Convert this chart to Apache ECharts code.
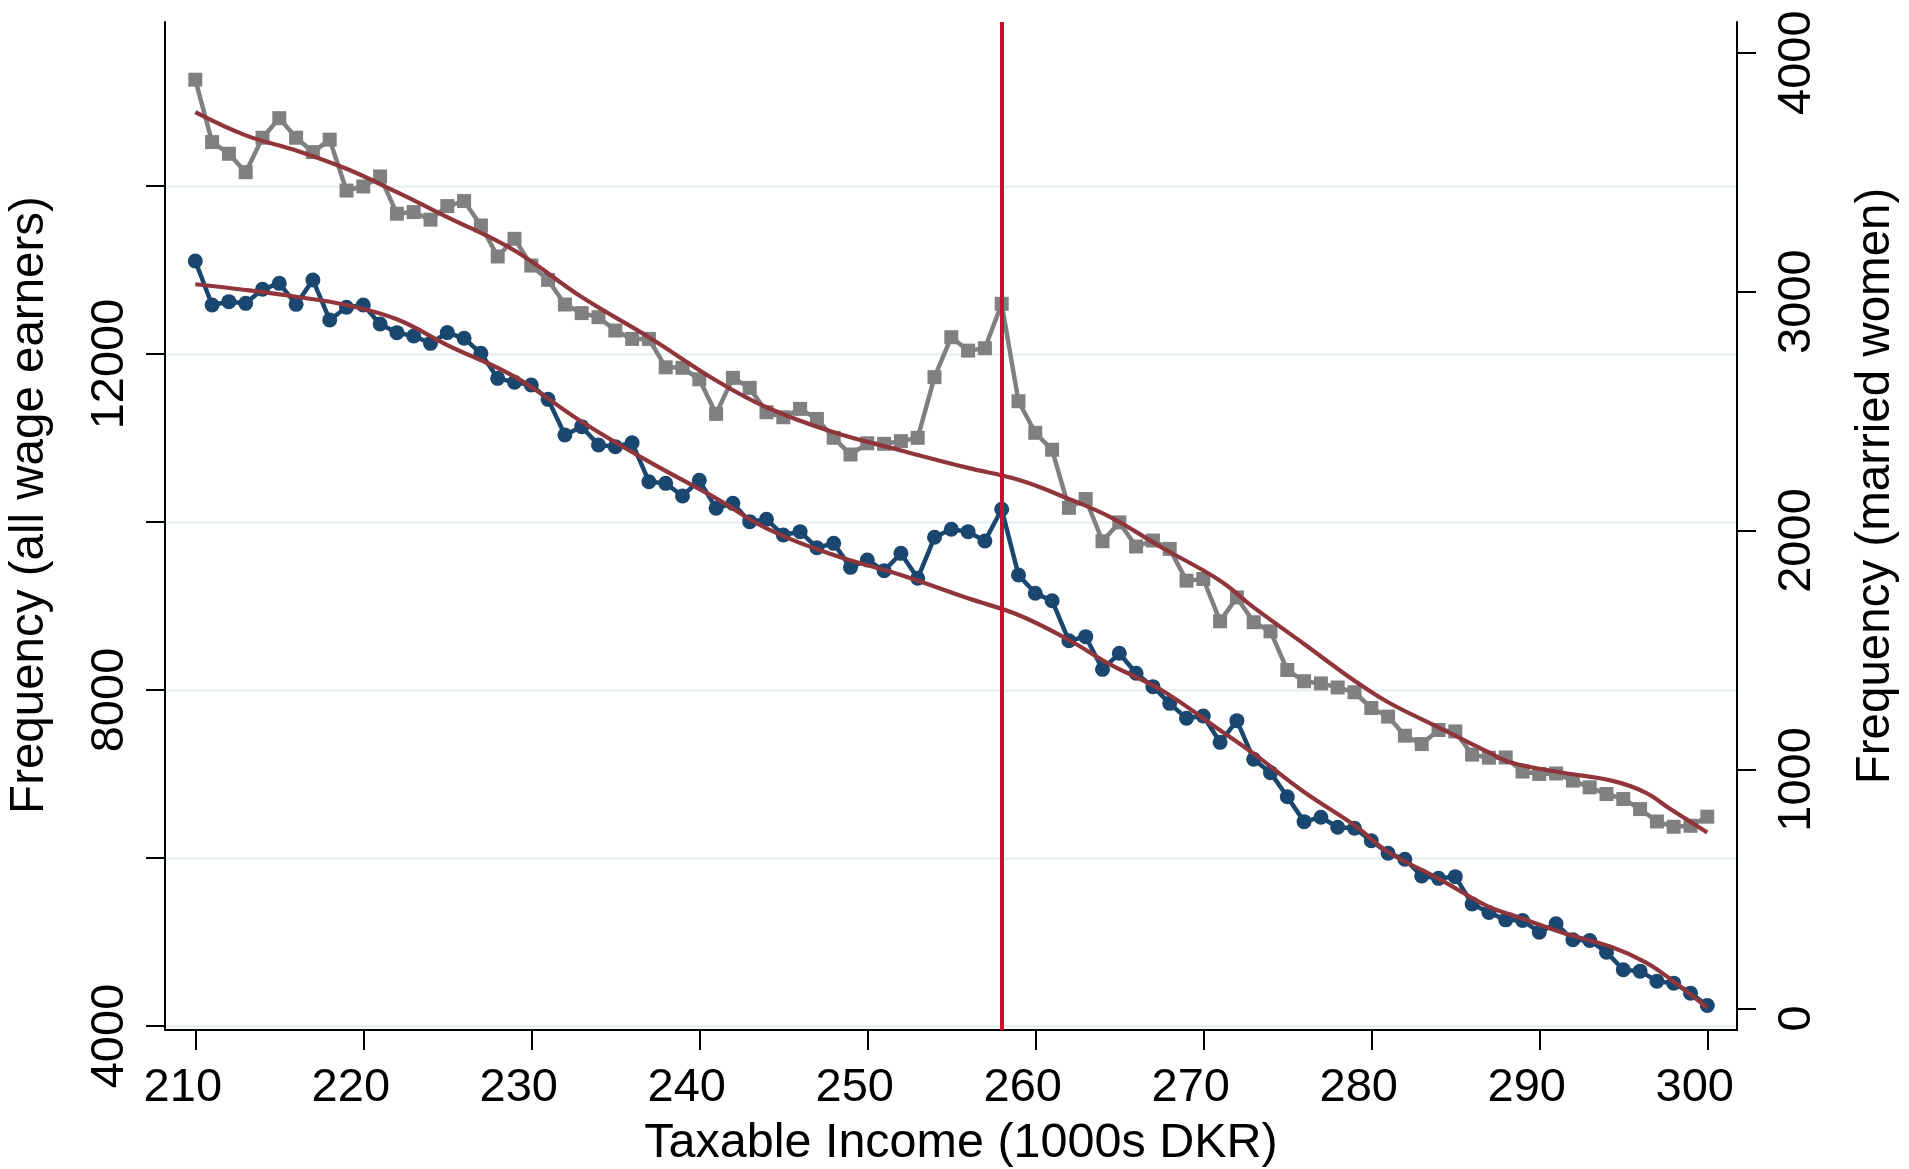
<!DOCTYPE html>
<html>
<head>
<meta charset="utf-8">
<script src="https://cdn.jsdelivr.net/npm/echarts@6/dist/echarts.min.js"></script>
<style>
html,body{margin:0;padding:0;background:#fff;}
#chart{width:1909px;height:1169px;}
</style>
</head>
<body>
<div id="chart"></div>
<script>
// Taxable income (1000s DKR)
const incomes = [210,211,212,213,214,215,216,217,218,219,220,221,222,223,224,225,226,227,228,229,230,
  231,232,233,234,235,236,237,238,239,240,241,242,243,244,245,246,247,248,249,250,
  251,252,253,254,255,256,257,258,259,260,261,262,263,264,265,266,267,268,269,270,
  271,272,273,274,275,276,277,278,279,280,281,282,283,284,285,286,287,288,289,290,
  291,292,293,294,295,296,297,298,299,300];

// Frequency (all wage earners) - left axis
const allEarners = [13107,12583,12623,12603,12770,12841,12591,12881,12405,12556,12583,
  12357,12254,12214,12127,12255,12187,12008,11710,11663,11631,
  11460,11036,11135,10917,10897,10944,10480,10460,10310,10496,
  10163,10222,10004,10032,9845,9885,9694,9746,9460,9548,
  9420,9627,9330,9818,9913,9885,9774,10151,9369,9151,
  9063,8587,8635,8246,8437,8199,8040,7841,7663,7690,
  7377,7635,7175,7016,6730,6433,6485,6366,6354,6206,
  6056,5985,5786,5758,5778,5453,5352,5264,5256,5117,
  5216,5026,5018,4879,4669,4653,4534,4510,4391,4244];

// Frequency (married women) - right axis
const marriedWomen = [3887,3626,3577,3500,3644,3726,3644,3584,3636,3423,3440,
  3482,3326,3333,3301,3358,3379,3277,3147,3221,3109,
  3049,2946,2910,2893,2837,2802,2802,2683,2681,2633,
  2488,2639,2597,2495,2474,2509,2467,2388,2318,2365,
  2363,2374,2388,2642,2809,2753,2763,2949,2541,2409,
  2338,2095,2132,1955,2034,1933,1958,1923,1790,1797,
  1620,1720,1616,1578,1416,1369,1360,1343,1323,1257,
  1221,1141,1106,1165,1159,1062,1049,1050,991,981,
  983,953,925,897,876,834,782,760,764,802];

// Smoothed fits
const fitX = [210,213,216,219,222,225,229,233,237,241,244,248,252,256,259,262,264.5,267.5,271,273,276,279,281,284,287,288.3,291.3,294.3,296.3,297.8,300];
const fitAll = [12830,12762,12682,12583,12413,12107,11730,11194,10718,10282,9925,9607,9369,9091,8893,8595,8298,8000,7520,7242,6786,6389,6071,5754,5417,5327,5117,4940,4761,4560,4218];
const fitMarried = [3751,3654,3591,3514,3416,3312,3172,2977,2809,2628,2516,2411,2335,2262,2212,2132,2055,1930,1790,1678,1525,1371,1281,1176,1071,1029,987,953,904,834,736];

const cutoff = 258;

const xTicks = [210,220,230,240,250,260,270,280,290,300];
const leftTicks = [4000,6000,8000,10000,12000,14000];
const leftLabels = [4000,8000,12000];
const rightTicks = [0,1000,2000,3000,4000];

const FONT = '"Liberation Sans", Arial, Helvetica, sans-serif';
const pair = (xs, ys) => xs.map((x, i) => [x, ys[i]]);
const plain = v => String(Math.round(v));

const axisLineStyle = {color: '#000', width: 2};

const chart = echarts.init(document.getElementById('chart'), null, {renderer: 'canvas'});
chart.setOption({
  animation: false,
  backgroundColor: '#ffffff',
  grid: {left: 165, right: 172, top: 22, bottom: 139, containLabel: false, outerBoundsMode: 'none'},
  xAxis: {
    type: 'value', min: 208.196, max: 301.768,
    name: 'Taxable Income (1000s DKR)', nameLocation: 'middle', nameGap: 89,
    nameTextStyle: {fontSize: 48.5, color: '#000', fontFamily: FONT, padding: [0, 0, 0, 20]},
    axisLine: {show: true, onZero: false, lineStyle: axisLineStyle},
    axisTick: {show: true, inside: false, length: 20, lineStyle: axisLineStyle, customValues: xTicks},
    axisLabel: {customValues: xTicks, formatter: plain, fontSize: 47, color: '#000', fontFamily: FONT, margin: 35, padding: [0, 25, 0, 0]},
    splitLine: {show: false}
  },
  yAxis: [
    {
      type: 'value', position: 'left', min: 3952.4, max: 15952.4,
      name: 'Frequency (all wage earners)', nameLocation: 'middle', nameGap: 111, nameRotate: 90,
      nameTextStyle: {fontSize: 47.5, color: '#000', fontFamily: FONT, padding: [0, 0, 0, 42]},
      axisLine: {show: true, onZero: false, lineStyle: axisLineStyle},
      axisTick: {show: true, inside: false, length: 19, lineStyle: axisLineStyle, customValues: leftTicks},
      axisLabel: {customValues: leftLabels, formatter: plain, rotate: 90, fontSize: 47, color: '#000', fontFamily: FONT, margin: 31, padding: [0, 20, 0, 0]},
      splitLine: {show: true, lineStyle: {color: '#e8f0f2', width: 2.5}}
    },
    {
      type: 'value', position: 'right', min: -90.8, max: 4128.5,
      name: 'Frequency (married women)', nameLocation: 'middle', nameGap: 115, nameRotate: 90,
      nameTextStyle: {fontSize: 47.5, color: '#000', fontFamily: FONT, padding: [0, 0, 0, 80]},
      axisLine: {show: true, onZero: false, lineStyle: axisLineStyle},
      axisTick: {show: true, inside: false, length: 19, lineStyle: axisLineStyle, customValues: rightTicks},
      axisLabel: {customValues: rightTicks, formatter: plain, rotate: 90, fontSize: 47, color: '#000', fontFamily: FONT, margin: 37, padding: [0, 20, 0, 0]},
      splitLine: {show: false}
    }
  ],
  series: [
    {
      type: 'line', name: 'cutoff', data: [], z: 1, silent: true,
      markLine: {
        silent: true, symbol: ['none', 'none'], label: {show: false},
        lineStyle: {color: '#c8102e', width: 4, type: 'solid'},
        data: [{xAxis: cutoff}]
      }
    },
    {
      type: 'line', name: 'Married women', yAxisIndex: 1, z: 2,
      data: pair(incomes, marriedWomen),
      symbol: 'rect', symbolSize: 14,
      itemStyle: {color: '#808080'},
      lineStyle: {color: '#808080', width: 4.5}
    },
    {
      type: 'line', name: 'All wage earners', yAxisIndex: 0, z: 3,
      data: pair(incomes, allEarners),
      symbol: 'circle', symbolSize: 15,
      itemStyle: {color: '#1a476f'},
      lineStyle: {color: '#1a476f', width: 4.5}
    },
    {
      type: 'line', name: 'Fit married', yAxisIndex: 1, z: 4,
      data: pair(fitX, fitMarried), smooth: 0.4, showSymbol: false, symbol: 'none',
      lineStyle: {color: '#90353b', width: 4.2}
    },
    {
      type: 'line', name: 'Fit all', yAxisIndex: 0, z: 4,
      data: pair(fitX, fitAll), smooth: 0.4, showSymbol: false, symbol: 'none',
      lineStyle: {color: '#90353b', width: 4.2}
    }
  ]
});
</script>
</body>
</html>
